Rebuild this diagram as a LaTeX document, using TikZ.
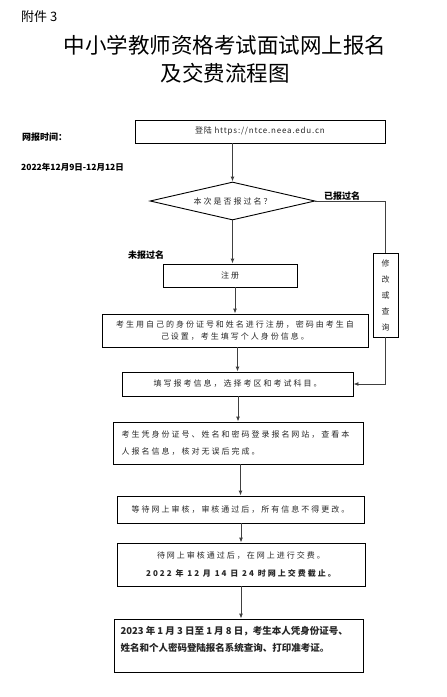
\documentclass[tikz,border=0pt]{standalone}
\usepackage{fontspec}
\setmainfont{Noto Sans CJK SC}
\newfontfamily\boxfont{Noto Sans CJK SC}[LetterSpace=25]
\newfontfamily\linkfont{Noto Sans CJK SC}[LetterSpace=10]
\usetikzlibrary{positioning, arrows.meta, shapes.geometric}

\begin{document}
\begin{tikzpicture}[
		x=1pt, y=-1pt,
		every node/.style={inner sep=0pt, align=center, text=black!85},
		box/.style={draw=black, line width=0.9pt, font=\boxfont\fontsize{8}{12}\selectfont},
		wide lines/.style={font=\boxfont\fontsize{8}{17}\selectfont},
		tag/.style={font=\bfseries\fontsize{9}{11}\selectfont, text=black},
		arrow/.style={-{Latex[length=5pt, width=4pt]}, line width=0.9pt, draw=black!75}
	]
	\useasboundingbox (0,0) rectangle (447,697);

	% Title
	\node (annex) [anchor=west, font=\fontsize{13}{15}\selectfont, text=black] at (21,17) {附件 3};
	\node (title) [font=\fontsize{21.5}{28}\selectfont, text=black] at (225,59) {中小学教师资格考试面试网上报名\\及交费流程图};
	\node (time) [tag, anchor=west] at (22,137) {网报时间：};
	\node (dates) [tag, anchor=west, font=\bfseries\fontsize{8.5}{10}\selectfont] at (21,167) {2022年12月9日-12月12日};

	% Nodes
	\node[box, minimum width=250, minimum height=23, font=\linkfont\fontsize{8}{10}\selectfont] (login) at (260,131.5) {登陆 https://ntce.neea.edu.cn};
	\node[box, diamond, aspect=4.3, minimum width=165, minimum height=38] (dec) at (232.5,201) {本次是否报过名？};
	\node[tag] (done) at (342,196) {已报过名};
	\node[tag] (new) at (146,255) {未报过名};
	\node[box, minimum width=134, minimum height=23] (reg) at (230,275.5) {注册};
	\node[box, minimum width=25, minimum height=84, font=\fontsize{8}{16}\selectfont] (edit) at (385.5,295) {修\\改\\或\\查\\询};
	\node[box, minimum width=266, minimum height=33] (ident) at (235,330.5) {考生用自己的身份证号和姓名进行注册，密码由考生自\\己设置，考生填写个人身份信息。};
	\node[box, minimum width=231, minimum height=24] (fill) at (237.5,384) {填写报考信息，选择考区和考试科目。};
	\node[box, wide lines, minimum width=250, minimum height=42, align=left, text width=233] (check) at (238,443) {考生凭身份证号、姓名和密码登录报名网站，查看本\\人报名信息，核对无误后完成。};
	\node[box, minimum width=247, minimum height=27] (wait) at (240.5,509.5) {等待网上审核，审核通过后，所有信息不得更改。};
	\node[box, font=\boxfont\fontsize{8}{18}\selectfont, minimum width=248, minimum height=43] (pay) at (241,564.5) {待网上审核通过后，在网上进行交费。\\{\bfseries 2022 年 12 月 14 日 24 时网上交费截止。}};
	\node[box, font=\bfseries\fontsize{9.5}{17}\selectfont, minimum width=249, minimum height=53] (print) at (238.5,645.5) {\parbox[c][53pt][t]{236pt}{\raggedright\vspace*{7pt}2023 年 1 月 3 日至 1 月 8 日，考生本人凭身份证号、\\姓名和个人密码登陆报名系统查询、打印准考证。}};

	% Connections
	\draw[arrow] (dec.north |- login.south) -- (dec.north);
	\draw[arrow] (dec.south) -- (dec.south |- reg.north);
	\draw[line width=0.9pt, draw=black!75] (dec.east) -| (edit.north);
	\draw[arrow] (edit.south) |- (fill.east);

	\draw[arrow] (reg.south -| ident.north) -- (ident.north);
	\draw[arrow] (ident.south -| fill.north) -- (fill.north);
	\draw[arrow] (fill.south -| check.north) -- (check.north);
	\draw[arrow] (check.south -| wait.north) -- (wait.north);
	\draw[arrow] (wait.south -| pay.north) -- (pay.north);
	\draw[arrow] (pay.south) -- (pay.south |- print.north);

\end{tikzpicture}
\end{document}
